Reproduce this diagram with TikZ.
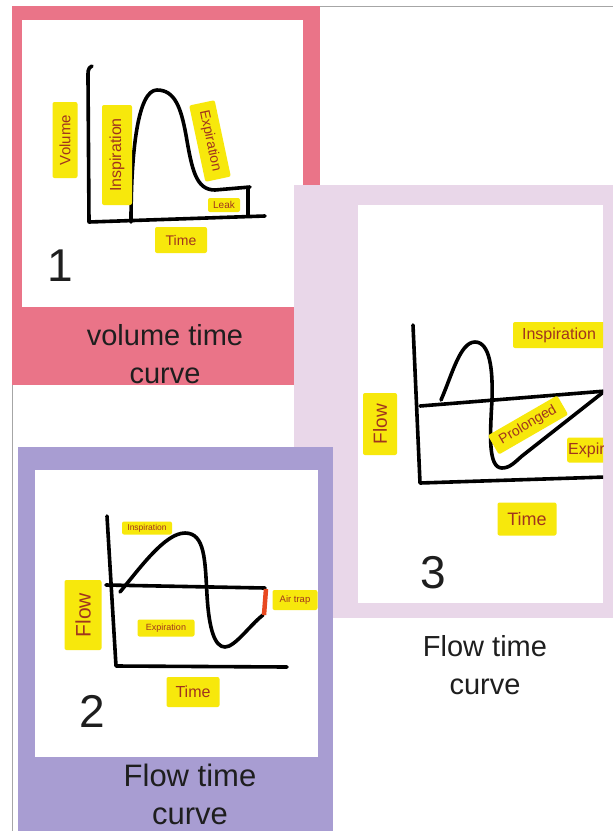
\documentclass[tikz,border=0pt]{standalone}
\usepackage{fontspec}
\setmainfont{Liberation Sans}
\usepackage{xcolor}
\usepackage{tikz}
\usetikzlibrary{positioning}

\definecolor{pinkbg}{RGB}{234,116,136}
\definecolor{lilacbg}{RGB}{233,215,233}
\definecolor{purplebg}{RGB}{168,157,210}
\definecolor{tagyellow}{RGB}{247,232,12}
\definecolor{tagred}{RGB}{160,52,30}
\definecolor{airred}{RGB}{232,72,32}
\definecolor{captext}{RGB}{30,30,30}

\newcommand{\fsz}[1]{\fontsize{#1}{#1}\selectfont}

\begin{document}
\begin{tikzpicture}[
  x=1pt, y=-1pt,
  tag/.style={fill=tagyellow, text=tagred, rounded corners=2pt, inner sep=1pt,
              align=center},
  pen/.style={line width=3.6pt, line cap=round, line join=round},
  captxt/.style={text=captext, align=center, font=\fontsize{29}{38}\selectfont},
  numtxt/.style={text=captext, font=\fontsize{46}{46}\selectfont}
]
\useasboundingbox (0,0) rectangle (613,831);
\fill[white] (0,0) rectangle (613,831);
\draw[gray!70, line width=0.8pt] (613,6) -- (12,6) -- (12,831);

% panel 1: volume time curve
\fill[pinkbg] (12,6) rectangle (320,385);
\fill[white] (22,20) rectangle (303,307);
\draw[pen] (92,66) to[out=200,in=90] (88,78) -- (89,222) -- (265,216);
\draw[pen] (131,222) .. controls (131,150) and (138,90) .. (157,90)
  .. controls (175,90) and (181,108) .. (186,135)
  .. controls (192,170) and (196,190) .. (215,190) -- (250,187);
\draw[pen] (248,188) -- (248,216);
\node[tag, rotate=90, minimum width=76, minimum height=25, font=\fsz{15}] (vol) at (65,140) {Volume};
\node[tag, rotate=90, minimum width=100, minimum height=30, font=\fsz{16}] (insp1) at (117,155) {Inspiration};
\node[tag, rotate=-78, minimum width=78, minimum height=26, font=\fsz{14}] (exp1) at (210,141) {Expiration};
\node[tag, minimum width=32, minimum height=14, font=\fsz{10}] (leak) at (224,205) {Leak};
\node[tag, minimum width=52, minimum height=26, font=\fsz{14}] (time1) at (181,240) {Time};
\node[numtxt] (n1) at (60,266) {1};
\node[captxt] (cap1) at (165,354) {volume time\\curve};

% panel 3: prolonged expiration
\fill[lilacbg] (294,185) rectangle (613,618);
\fill[white] (358,205) rectangle (603,603);
\begin{scope}
  \clip (358,205) rectangle (603,603);
  \draw[pen] (413,325) -- (420,483) -- (606,477);
  \draw[pen] (420,406) -- (606,391);
  \draw[pen] (441,400) .. controls (452,375) and (460,342) .. (475,342)
    .. controls (490,342) and (493,370) .. (492,400)
    .. controls (490,435) and (488,468) .. (502,468)
    .. controls (510,468) and (515,462) .. (522,456) -- (606,390);
  \node[tag, minimum width=92, minimum height=26, font=\fsz{16}] (insp3) at (559,335) {Inspiration};
  \node[tag, anchor=west, minimum height=25, font=\fsz{16}] (exp3) at (567,450) {Expiration};
\end{scope}
\node[tag, rotate=30, minimum width=80, minimum height=22, font=\fsz{14}] (prol) at (528,425) {Prolonged};
\node[tag, rotate=90, minimum width=62, minimum height=34, font=\fsz{19}] (flow3) at (380,424) {Flow};
\node[tag, minimum width=59, minimum height=33, font=\fsz{18}] (time3) at (527,519) {Time};
\node[numtxt] (n3) at (433,573) {3};
\node[captxt] (cap3) at (485,665) {Flow time\\curve};

% panel 2: air trapping
\fill[purplebg] (18,447) rectangle (333,832);
\fill[white] (35,470) rectangle (318,757);
\draw[pen] (107,516) -- (116,666) -- (287,667);
\draw[pen] (106,585) -- (265,588);
\draw[pen] (120,592) .. controls (140,568) and (165,533) .. (185,533)
  .. controls (205,533) and (205,560) .. (207,595)
  .. controls (209,630) and (215,647) .. (225,647)
  .. controls (235,647) and (250,625) .. (263,615);
\draw[airred, line width=4.5pt] (266,589) -- (264,615);
\node[tag, minimum width=50, minimum height=13, font=\fsz{8.5}] (insp2) at (147,528) {Inspiration};
\node[tag, minimum width=57, minimum height=17, font=\fsz{9}] (exp2) at (166,628) {Expiration};
\node[tag, minimum width=45, minimum height=20, font=\fsz{9.5}] (air) at (295,600) {Air trap};
\node[tag, rotate=90, minimum width=70, minimum height=37, font=\fsz{21}] (flow2) at (83,615) {Flow};
\node[tag, minimum width=53, minimum height=30, font=\fsz{16}] (time2) at (193,692) {Time};
\node[numtxt] (n2) at (92,711) {2};
\node[captxt, font=\fontsize{31}{38}\selectfont] (cap2) at (190,794) {Flow time\\curve};
\end{tikzpicture}
\end{document}
